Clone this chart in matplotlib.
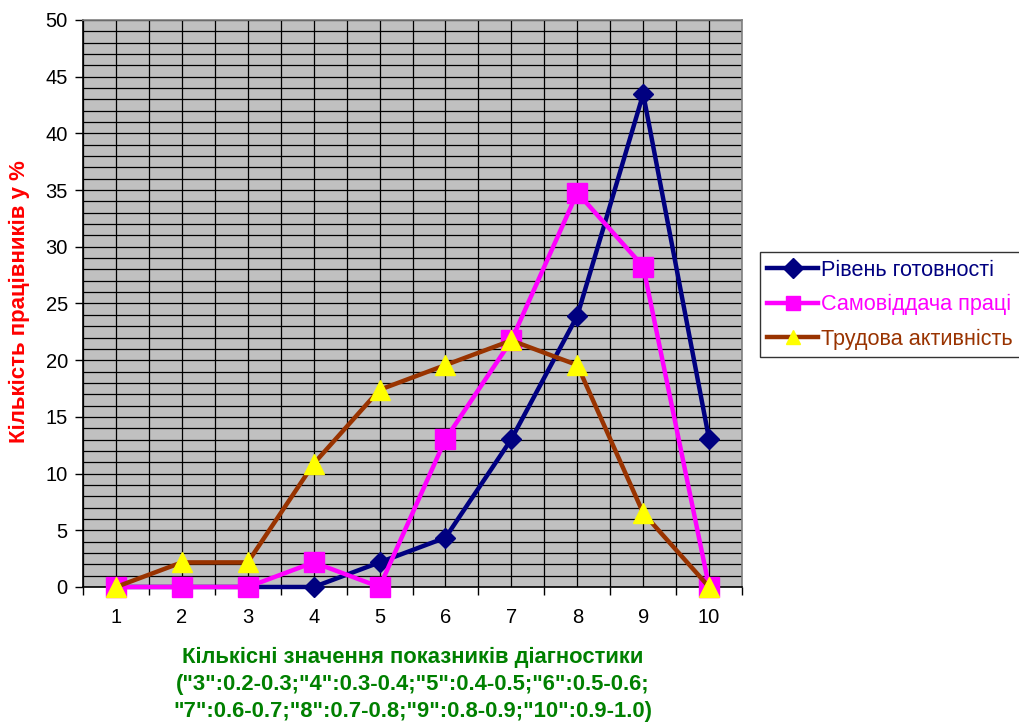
import matplotlib
matplotlib.use("Agg")
import matplotlib.pyplot as plt
from matplotlib.ticker import MultipleLocator, FixedLocator, NullFormatter

plt.rcParams['font.family'] = ['Liberation Sans', 'DejaVu Sans']

categories = [1, 2, 3, 4, 5, 6, 7, 8, 9, 10]
readiness = [0, 0, 0, 0, 2.17, 4.35, 13.04, 23.91, 43.48, 13.04]
dedication = [0, 0, 0, 2.17, 0, 13.04, 21.74, 34.78, 28.26, 0]
activity = [0, 2.17, 2.17, 10.87, 17.39, 19.57, 21.74, 19.57, 6.52, 0]

series_names = ["Рівень готовності", "Самовіддача праці", "Трудова активність"]
y_label = "Кількість працівників у %"
x_label = ('Кількісні значення показників діагностики\n'
           '("3":0.2-0.3;"4":0.3-0.4;"5":0.4-0.5;"6":0.5-0.6;\n'
           '"7":0.6-0.7;"8":0.7-0.8;"9":0.8-0.9;"10":0.9-1.0)')

fig = plt.figure(figsize=(10.2, 7.22), dpi=100)
ax = fig.add_axes([0.0814, 0.187, 0.6461, 0.7853])
ax.set_facecolor('#C0C0C0')

ax.set_xlim(0.5, 10.5)
ax.set_ylim(0, 50)

# grid: every unit horizontally, every half category vertically
ax.yaxis.set_major_locator(MultipleLocator(5))
ax.yaxis.set_minor_locator(MultipleLocator(1))
ax.xaxis.set_major_locator(FixedLocator(categories))
ax.xaxis.set_minor_locator(FixedLocator([c + 0.5 for c in range(0, 11)]))
ax.grid(which='both', axis='both', color='black', linewidth=0.9)
ax.set_axisbelow(True)

ax.plot(categories, readiness, color='#000080', linewidth=3.2, marker='D',
        markersize=10.5, markerfacecolor='#000080', markeredgecolor='#000080',
        label=series_names[0], zorder=3, clip_on=False)
ax.plot(categories, dedication, color='#FF00FF', linewidth=3.2, marker='s',
        markersize=14, markerfacecolor='#FF00FF', markeredgecolor='#FF00FF',
        label=series_names[1], zorder=4, clip_on=False)
ax.plot(categories, activity, color='#993300', linewidth=3.2, marker='^',
        markersize=14, markerfacecolor='#FFFF00', markeredgecolor='#FFFF00',
        label=series_names[2], zorder=5, clip_on=False)

for side in ['top', 'right']:
    ax.spines[side].set_color('#808080')
    ax.spines[side].set_linewidth(1.2)
for side in ['left', 'bottom']:
    ax.spines[side].set_color('black')
    ax.spines[side].set_linewidth(1.2)

ax.tick_params(axis='y', which='major', direction='out', length=6, width=1,
               labelsize=14.5, pad=5)
ax.tick_params(axis='y', which='minor', length=0)
ax.tick_params(axis='x', which='major', length=0, labelsize=14.5, pad=15)
ax.tick_params(axis='x', which='minor', direction='out', length=6, width=1)
ax.xaxis.set_minor_formatter(NullFormatter())

fig.text(0.019, 0.582, y_label, rotation=90, color='#FF0000', fontsize=16,
         fontweight='bold', ha='center', va='center')
fig.text(0.405, 0.0516, x_label, color='#008000', fontsize=15.8,
         fontweight='bold', ha='center', va='center', linespacing=1.38)

leg = fig.legend(loc='upper left', bbox_to_anchor=(0.745, 0.651),
                 frameon=True, fancybox=False, fontsize=15.6,
                 handlelength=2.35, handletextpad=0.1, borderpad=0.35,
                 labelspacing=0.62, borderaxespad=0)
leg.get_frame().set_edgecolor('black')
leg.get_frame().set_linewidth(1)
for text, col in zip(leg.get_texts(), ['#000080', '#FF00FF', '#993300']):
    text.set_color(col)
for h in leg.legend_handles:
    h.set_markersize(10)

fig.savefig('out.png', dpi=100)
